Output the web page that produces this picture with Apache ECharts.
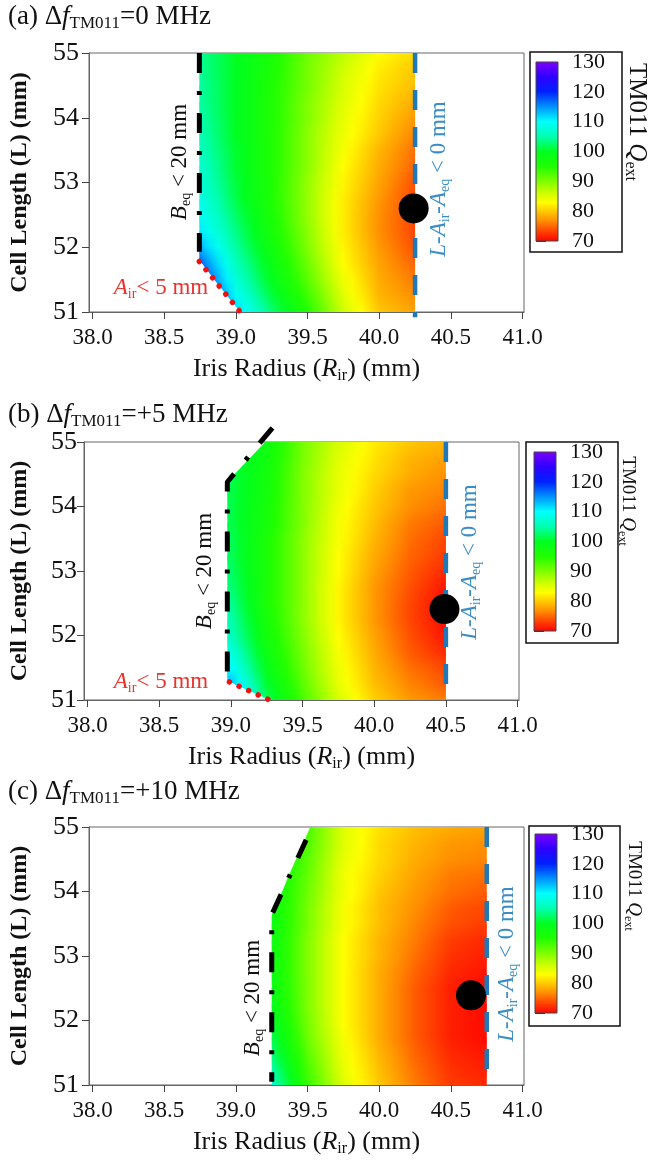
<!DOCTYPE html>
<html>
<head>
<meta charset="utf-8">
<script src="https://cdn.jsdelivr.net/npm/echarts@6/dist/echarts.min.js"></script>
<style>
  html, body { margin: 0; padding: 0; background: #fff; }
  #chart { width: 650px; height: 1161px; }
</style>
</head>
<body>
<div id="chart"></div>
<script>
// ---- Q_ext colour scale (TM011 external Q) ----
const cmapLevels = [70, 74, 77, 80, 83, 86, 90, 95, 100, 105, 110, 115, 120, 125, 130];
const cmapColors = ['#ff0000', '#ff5000', '#ff9000', '#ffc800', '#ffff00', '#d0ff00', '#80ff00',
                    '#20ff00', '#00ff20', '#00ffb0', '#00ffff', '#0090ff', '#0020ff', '#3000ff', '#8000ff'];
const cbarTicks = [70, 80, 90, 100, 110, 120, 130];

// ---- axes ----
const xTickValues = [38.0, 38.5, 39.0, 39.5, 40.0, 40.5, 41.0];
const yTickValues = [51, 52, 53, 54, 55];

// cell length rows (mm) at which Q_ext was sampled
const lRows = [51, 51.25, 51.5, 51.75, 52, 52.25, 52.5, 52.75, 53, 53.25, 53.5, 53.75, 54, 54.25, 54.5, 54.75, 55];

// (a) df = 0 MHz : iris radius columns and Q_ext per row (row = lRows[i])
const rColsA = [38.75, 39.0, 39.25, 39.5, 39.75, 40.0, 40.25];
const qA = [
  [126, 112, 103, 95, 86, 80, 78],
  [123, 109.5, 101, 93.5, 85, 79, 77],
  [120, 107.5, 99.5, 92, 84, 78.5, 76],
  [117, 106, 98.5, 91, 83, 78, 75],
  [113.5, 104.5, 97.5, 90, 82.5, 77.5, 74],
  [111, 103.5, 96.5, 89.5, 82, 77, 73.5],
  [109.5, 102.5, 96, 89, 82, 77, 73.5],
  [108.5, 101.5, 95.5, 89, 82, 77.5, 73.5],
  [107.5, 101, 95.5, 89, 82.5, 78, 74],
  [107, 100.5, 95.5, 89.5, 83, 78.5, 75],
  [106, 100.5, 95.5, 89.5, 83.5, 79, 75.5],
  [105.5, 100, 95.5, 89.5, 84, 80, 76.5],
  [105, 100, 95.5, 90, 84.5, 80.5, 77.5],
  [104.5, 100, 95.5, 90, 85, 81, 78.5],
  [104.5, 100, 95.5, 90.5, 85.5, 81.5, 79.5],
  [104, 100, 96, 90.5, 86, 82, 80],
  [104, 100, 96, 91, 87, 83, 81]
];
const regionA = [[38.745, 55], [38.745, 51.8], [39.03, 51]];
const beqA = [[38.745, 55], [38.745, 51.93]];
const airA = [[38.745, 51.78], [39.03, 51.0]];
const laaA = [[40.25, 55], [40.25, 50.92]];
const optA = [[40.24, 52.6]];

// (b) df = +5 MHz
const rColsB = [39.0, 39.25, 39.5, 39.75, 40.0, 40.25, 40.5];
const qB = [
  [116, 102, 93, 85.5, 80.5, 77.5, 76],
  [113, 100.5, 92, 84.5, 79.5, 76.5, 74.5],
  [110, 99, 91, 84, 79, 75.5, 73.5],
  [108, 98, 90.5, 83.5, 78.5, 74.5, 72],
  [106, 97, 90, 83, 78, 74, 71],
  [105, 96.5, 89.5, 82.5, 77.5, 73.5, 70.5],
  [104, 96, 89.5, 82.5, 77.5, 73.5, 70.5],
  [103, 96, 89.5, 82.5, 77.5, 74, 71],
  [102.5, 96, 89.5, 83, 78, 74.5, 72],
  [102, 96, 89.5, 83, 78.5, 75, 73],
  [102, 96, 89.5, 83.5, 79, 75.5, 73.5],
  [101.5, 96.5, 90, 83.5, 79.5, 76, 74.5],
  [101.5, 96.5, 90, 84, 80, 77, 75.5],
  [101.5, 97, 90, 84.5, 80.5, 77.5, 76.5],
  [101.5, 97, 90, 84.5, 81, 78.5, 77],
  [102, 97.5, 90.5, 85, 81.5, 79, 78],
  [102, 98, 90.5, 85.5, 82, 80, 79]
];
const regionB = [[39.24, 55], [38.975, 54.38], [38.975, 51.3], [39.27, 51]];
const beqB = [[39.29, 55.22], [38.975, 54.38], [38.975, 51.33]];
const airB = [[38.99, 51.28], [39.27, 51.0]];
const laaB = [[40.5, 55], [40.5, 51]];
const optB = [[40.49, 52.41]];

// (c) df = +10 MHz
const rColsC = [39.25, 39.5, 39.75, 40.0, 40.25, 40.5, 40.75];
const qC = [
  [107, 94, 85, 80, 76, 73, 72],
  [105, 93, 84.5, 79.5, 75.5, 72.5, 71.5],
  [103, 92, 84, 79, 75, 72, 71],
  [101.5, 91, 83.5, 78.5, 74.5, 71.5, 70.5],
  [100, 90.5, 83, 78.5, 74.5, 71.5, 70.5],
  [99, 90, 83, 78.5, 74.5, 71.5, 70.5],
  [98.5, 90, 83, 78.5, 74.5, 71.5, 70.5],
  [98, 90, 83, 78.5, 75, 72, 71],
  [98, 90, 83, 79, 75.5, 72.5, 71.5],
  [98, 90, 83, 79, 76, 73, 72],
  [98, 90.5, 83.5, 79.5, 76.5, 74, 73],
  [98, 90.5, 83.5, 79.5, 77, 74.5, 73.5],
  [98, 91, 84, 80, 77.5, 75.5, 74.5],
  [98, 91.5, 84, 80.5, 78, 76, 75.5],
  [98.5, 92, 84.5, 81, 78.5, 77, 76.5],
  [98.5, 92.5, 85, 81, 79, 77.5, 77],
  [99, 93, 85, 81.5, 79.5, 78.5, 78]
];
const regionC = [[39.52, 55], [39.25, 53.64], [39.25, 51]];
const beqC = [[39.49, 54.8], [39.25, 53.64], [39.25, 51.05]];
const laaC = [[40.75, 55], [40.75, 51]];
const optC = [[40.64, 52.39]];

// ---- helpers ----
const FONT = "'Times New Roman', 'Liberation Serif', serif";

function hexToRgb(h) {
  return [parseInt(h.slice(1, 3), 16), parseInt(h.slice(3, 5), 16), parseInt(h.slice(5, 7), 16)];
}
const cmapRgb = cmapColors.map(hexToRgb);

function qColor(q) {
  const n = cmapLevels.length;
  if (q <= cmapLevels[0]) return cmapColors[0];
  if (q >= cmapLevels[n - 1]) return cmapColors[n - 1];
  let i = 0;
  while (q > cmapLevels[i + 1]) i++;
  const t = (q - cmapLevels[i]) / (cmapLevels[i + 1] - cmapLevels[i]);
  const a = cmapRgb[i], b = cmapRgb[i + 1];
  const c = a.map((v, k) => Math.round(v + (b[k] - v) * t));
  return 'rgb(' + c.join(',') + ')';
}

// R of a boundary polyline at cell length L
function edgeAt(poly, L) {
  const pts = poly.slice().sort((p, q) => p[1] - q[1]);
  if (L <= pts[0][1]) return pts[0][0];
  if (L >= pts[pts.length - 1][1]) return pts[pts.length - 1][0];
  for (let i = 0; i < pts.length - 1; i++) {
    const a = pts[i], b = pts[i + 1];
    if (L >= a[1] && L <= b[1]) {
      const t = (L - a[1]) / (b[1] - a[1]);
      return a[0] + (b[0] - a[0]) * t;
    }
  }
  return pts[0][0];
}

// horizontal colour ramp of one sampled row, placed on the R axis
function rowGradient(api, rCols, row, L) {
  const n = row.length;
  const x0 = api.coord([rCols[0], L])[0];
  const x1 = api.coord([rCols[n - 1], L])[0];
  const stops = [];
  for (let i = 0; i < n - 1; i++) {
    for (let k = 0; k < 4; k++) {
      const t = k / 4;
      stops.push({ offset: (i + t) / (n - 1), color: qColor(row[i] + (row[i + 1] - row[i]) * t) });
    }
  }
  stops.push({ offset: 1, color: qColor(row[n - 1]) });
  return new echarts.graphic.LinearGradient(x0, 0, x1, 0, stops, true);
}

// band between two sampled rows: lower row painted, upper row faded in over it
function heatRenderer(rCols, q, region, rRight) {
  return function (params, api) {
    const j = params.dataIndex;
    const L0 = lRows[j], L1 = lRows[j + 1];
    const yBot = Math.round(api.coord([rRight, L0])[1]);
    const yTop = Math.round(api.coord([rRight, L1])[1]);
    const xRight = api.coord([rRight, L0])[0];
    const gLow = rowGradient(api, rCols, q[j], L0);
    const gHigh = rowGradient(api, rCols, q[j + 1], L1);
    const S = Math.max(1, Math.round((yBot - yTop) / 2));
    const children = [];
    const lAtY = y => L0 + (L1 - L0) * (yBot - y) / (yBot - yTop);
    for (let k = 0; k < S; k++) {
      const ya = Math.round(yBot - (yBot - yTop) * k / S);
      const yb = Math.round(yBot - (yBot - yTop) * (k + 1) / S);
      const la = lAtY(ya), lb = lAtY(yb);
      const xa = api.coord([edgeAt(region, la), la])[0];
      const xb = api.coord([edgeAt(region, lb), lb])[0];
      const pts = [[xa, ya], [xRight, ya], [xRight, yb], [xb, yb]];
      children.push({ type: 'polygon', shape: { points: pts }, style: { fill: gLow, stroke: null } });
      children.push({ type: 'polygon', shape: { points: pts },
                      style: { fill: gHigh, stroke: null, opacity: (k + 0.5) / S } });
    }
    return { type: 'group', children: children };
  };
}

function colorbarRenderer(params, api) {
  const n = cmapLevels.length;
  const lo = cmapLevels[0], hi = cmapLevels[n - 1];
  const p0 = api.coord([0, hi]);
  const p1 = api.coord([1, lo]);
  const stops = [];
  for (let i = n - 1; i >= 0; i--) {
    stops.push({ offset: (hi - cmapLevels[i]) / (hi - lo), color: cmapColors[i] });
  }
  return {
    type: 'rect',
    shape: { x: p0[0], y: p0[1], width: p1[0] - p0[0], height: p1[1] - p0[1] },
    style: { fill: new echarts.graphic.LinearGradient(0, 0, 0, 1, stops), stroke: '#444', lineWidth: 1 }
  };
}

function richSet(size, color) {
  return {
    i: { fontFamily: FONT, fontSize: size, fontStyle: 'italic', color: color, fill: color, lineHeight: size + 4 },
    sub: { fontFamily: FONT, fontSize: Math.round(size * 0.62), color: color, fill: color,
           lineHeight: Math.round(size * 0.62), verticalAlign: 'bottom' }
  };
}

function freeText(x, y, rot, text, size, color) {
  return {
    type: 'text', x: x, y: y, rotation: rot, z: 50,
    style: {
      text: text, fill: color, fontFamily: FONT, fontSize: size,
      align: 'center', verticalAlign: 'middle', textAlign: 'center', textVerticalAlign: 'middle',
      lineHeight: size + 4,
      rich: richSet(size, color)
    }
  };
}

// ---- panel layout ----
const panels = [
  { tag: '(a)', df: '0', titleTop: 1,
    grid: { left: 88, top: 53, width: 436, height: 259 },
    cbGrid: { left: 536, top: 62, width: 22, height: 179 },
    cbBox: [530, 52, 92, 200], cbTitle: [637, 122, 25],
    yNameGap: 57, yLabelMargin: 10,
    rCols: rColsA, q: qA, region: regionA, rRight: 40.25,
    beq: beqA, air: airA, laa: laaA, opt: optA,
    beqText: [180, 162], laaText: [439, 179], airText: [161, 288] },
  { tag: '(b)', df: '+5', titleTop: 399,
    grid: { left: 83, top: 442, width: 436, height: 258 },
    cbGrid: { left: 534, top: 452, width: 22, height: 179 },
    cbBox: [526, 442, 92, 201], cbTitle: [628, 501, 19],
    yNameGap: 52, yLabelMargin: 7,
    rCols: rColsB, q: qB, region: regionB, rRight: 40.5,
    beq: beqB, air: airB, laa: laaB, opt: optB,
    beqText: [205, 571], laaText: [470, 562], airText: [161, 682] },
  { tag: '(c)', df: '+10', titleTop: 776,
    grid: { left: 88, top: 827, width: 436, height: 258 },
    cbGrid: { left: 535, top: 834, width: 22, height: 179 },
    cbBox: [529, 826, 91, 200], cbTitle: [634, 886, 19],
    yNameGap: 57, yLabelMargin: 10,
    rCols: rColsC, q: qC, region: regionC, rRight: 40.75,
    beq: beqC, air: null, laa: laaC, opt: optC,
    beqText: [253, 998], laaText: [507, 964], airText: null }
];

const option = {
  animation: false,
  backgroundColor: '#fff',
  title: [], grid: [], xAxis: [], yAxis: [], series: [], graphic: []
};

panels.forEach((p, k) => {
  const gMain = 2 * k, gBar = 2 * k + 1;
  option.title.push({
    text: p.tag + ' Δ{i|f}{sub|TM011}=' + p.df + ' MHz',
    left: 8, top: p.titleTop, padding: 0,
    textStyle: { fontFamily: FONT, fontSize: 27, fontWeight: 'normal', color: '#111', lineHeight: 31,
                 rich: richSet(27, '#111') }
  });
  option.grid.push(Object.assign({ show: true, borderColor: '#666', borderWidth: 1, backgroundColor: '#fff' }, p.grid));
  option.grid.push(Object.assign({ show: false }, p.cbGrid));

  option.xAxis.push({
    gridIndex: gMain, type: 'value', min: 37.975, max: 41.01,
    axisLine: { show: true, onZero: false, lineStyle: { color: '#666', width: 1 } },
    axisTick: { show: true, inside: false, length: 7, lineStyle: { color: '#444' }, customValues: xTickValues },
    axisLabel: { customValues: xTickValues, formatter: v => Number(v).toFixed(1), margin: 14,
                 fontFamily: FONT, fontSize: 23, color: '#111' },
    splitLine: { show: false },
    name: 'Iris Radius ({i|R}{sub|ir}) (mm)', nameLocation: 'middle', nameGap: 42,
    nameTextStyle: { fontFamily: FONT, fontSize: 26, color: '#111', lineHeight: 30, rich: richSet(26, '#111') }
  });
  option.yAxis.push({
    gridIndex: gMain, type: 'value', min: yTickValues[0], max: yTickValues[yTickValues.length - 1], interval: 1,
    axisLine: { show: true, onZero: false, lineStyle: { color: '#666', width: 1 } },
    axisTick: { show: true, inside: false, length: 7, lineStyle: { color: '#444' } },
    axisLabel: { margin: p.yLabelMargin, fontFamily: FONT, fontSize: 26, color: '#111' },
    splitLine: { show: false },
    name: 'Cell Length (L) (mm)', nameLocation: 'middle', nameGap: p.yNameGap, nameRotate: 90,
    nameTextStyle: { fontFamily: FONT, fontSize: 24, fontWeight: 'bold', color: '#111' }
  });
  option.xAxis.push({ gridIndex: gBar, type: 'value', min: 0, max: 1, show: false });
  option.yAxis.push({
    gridIndex: gBar, type: 'value', min: cbarTicks[0], max: cbarTicks[cbarTicks.length - 1], interval: 10,
    position: 'right',
    axisLine: { show: false },
    axisTick: { show: true, inside: false, length: 10, lineStyle: { color: '#333' } },
    axisLabel: { margin: 14, fontFamily: FONT, fontSize: 22, color: '#111' },
    splitLine: { show: false }
  });

  // Q_ext field over the allowed region (one band between consecutive sampled rows)
  option.series.push({
    type: 'custom', coordinateSystem: 'cartesian2d', xAxisIndex: gMain, yAxisIndex: gMain,
    data: lRows.slice(0, -1).map(L => [p.rRight, L]), clip: true, z: 1, silent: true,
    renderItem: heatRenderer(p.rCols, p.q, p.region, p.rRight)
  });
  // colour bar
  option.series.push({
    type: 'custom', coordinateSystem: 'cartesian2d', xAxisIndex: gBar, yAxisIndex: gBar,
    data: [[0.5, 100]], z: 2, silent: true, renderItem: colorbarRenderer
  });
  // B_eq < 20 mm limit
  option.series.push({
    type: 'line', xAxisIndex: gMain, yAxisIndex: gMain, data: p.beq, showSymbol: false, clip: false, z: 5,
    lineStyle: { color: '#000', width: 5, type: [20, 18, 4, 18], cap: 'butt' }
  });
  // A_ir < 5 mm limit
  if (p.air) {
    option.series.push({
      type: 'line', xAxisIndex: gMain, yAxisIndex: gMain, data: p.air, showSymbol: false, clip: false, z: 5,
      lineStyle: { color: '#ee1111', width: 5.5, type: [0.01, 10.5], cap: 'round' }
    });
  }
  // L - A_ir - A_eq < 0 mm limit
  option.series.push({
    type: 'line', xAxisIndex: gMain, yAxisIndex: gMain, data: p.laa, showSymbol: false, clip: false, z: 5,
    lineStyle: { color: '#1f78b8', width: 4.5, type: [20, 17], cap: 'butt' }
  });
  // chosen working point
  option.series.push({
    type: 'scatter', xAxisIndex: gMain, yAxisIndex: gMain, data: p.opt, symbol: 'circle', symbolSize: 30,
    itemStyle: { color: '#000', opacity: 1 }, z: 6, clip: false
  });

  // frame around colour bar
  option.graphic.push({
    type: 'rect', shape: { x: p.cbBox[0], y: p.cbBox[1], width: p.cbBox[2], height: p.cbBox[3] },
    style: { fill: 'transparent', stroke: '#111', lineWidth: 1.5 }, z: 40
  });
  option.graphic.push(freeText(p.cbTitle[0], p.cbTitle[1], -Math.PI / 2, 'TM011 {i|Q}{sub|ext}', p.cbTitle[2], '#111'));
  option.graphic.push(freeText(p.beqText[0], p.beqText[1], Math.PI / 2, '{i|B}{sub|eq} < 20 mm', 23, '#111'));
  option.graphic.push(freeText(p.laaText[0], p.laaText[1], Math.PI / 2,
    '{i|L}-{i|A}{sub|ir}-{i|A}{sub|eq} < 0 mm', 23, '#3a8dc6'));
  if (p.airText) {
    option.graphic.push(freeText(p.airText[0], p.airText[1], 0, '{i|A}{sub|ir}< 5 mm', 23, '#e8342f'));
  }
});

const chart = echarts.init(document.getElementById('chart'), null, { renderer: 'canvas' });
chart.setOption(option);
</script>
</body>
</html>
